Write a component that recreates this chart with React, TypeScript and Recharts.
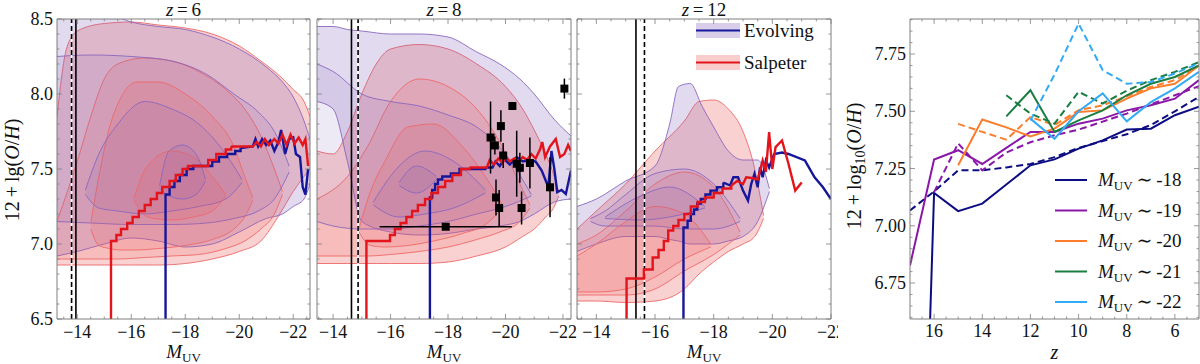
import React from "react";
import {
  ComposedChart,
  Area,
  Line,
  Scatter,
  ErrorBar,
  XAxis,
  YAxis,
  ReferenceLine,
  Legend,
} from "recharts";

const FONT = '"Liberation Serif", "DejaVu Serif", serif';
const FRAME = "#7f7f7f";
const EVO = "#16169a";
const SALP = "#e3141b";
const EVO_FILL = "#7d5cb5";
const SALP_FILL = "#ee5a5a";
const EVO_EDGE = "#8a66be";
const SALP_EDGE = "#ee6868";

// ---- contour bands: [M_UV, low, high] ----
const z6SalpA = [
  [-13.25, 6.86, 7.85], [-13.6, 6.86, 8.3], [-14.0, 6.86, 8.42], [-15.0, 6.86, 8.47],
  [-16.0, 6.86, 8.48], [-17.0, 6.86, 8.46], [-18.0, 6.87, 8.44], [-19.0, 6.9, 8.4],
  [-20.0, 6.95, 8.32], [-20.8, 7.02, 8.22], [-21.5, 7.2, 8.12], [-22.0, 7.35, 8.03],
  [-22.4, 7.45, 7.95], [-22.62, 7.5, 7.85],
];
const z6EvoA = [
  [-13.25, 6.92, 8.6], [-14.0, 6.95, 8.6], [-15.0, 7.0, 8.55], [-16.0, 7.04, 8.48],
  [-17.0, 7.02, 8.45], [-18.0, 6.98, 8.43], [-19.0, 7.0, 8.38], [-20.0, 7.08, 8.3],
  [-21.0, 7.17, 8.18], [-21.6, 7.2, 8.08], [-22.0, 7.25, 7.98], [-22.4, 7.3, 7.82],
  [-22.62, 7.4, 7.7],
];
const z6SalpB = [
  [-13.25, 6.9, 7.15], [-14.0, 6.9, 7.55], [-14.5, 6.9, 7.85], [-15.0, 6.9, 8.1],
  [-15.5, 6.9, 8.2], [-16.5, 6.91, 8.24], [-17.5, 6.92, 8.22], [-18.5, 6.93, 8.15],
  [-19.5, 6.97, 8.03], [-20.2, 7.02, 7.9], [-20.8, 7.1, 7.72], [-21.3, 7.2, 7.5],
  [-21.6, 7.33, 7.35],
];
const z6EvoB = [
  [-13.25, 7.15, 8.25], [-14.5, 7.14, 8.26], [-16.0, 7.13, 8.25], [-17.5, 7.13, 8.22],
  [-18.8, 7.14, 8.13], [-19.8, 7.17, 8.0], [-20.7, 7.22, 7.88], [-21.3, 7.3, 7.75],
  [-21.85, 7.48, 7.52],
];
const z6SalpC = [
  [-14.5, 7.1, 7.14], [-14.8, 6.99, 7.45], [-15.2, 6.97, 7.78], [-15.6, 6.96, 7.97],
  [-16.2, 6.96, 8.08], [-17.0, 6.97, 8.08], [-18.0, 6.99, 8.0], [-19.0, 7.03, 7.85],
  [-19.8, 7.1, 7.65], [-20.2, 7.18, 7.45], [-20.5, 7.29, 7.31],
];
const z6EvoC = [
  [-14.3, 7.33, 7.36], [-14.8, 7.24, 7.6], [-15.5, 7.22, 7.8], [-16.5, 7.2, 7.95],
  [-17.5, 7.22, 7.9], [-18.5, 7.25, 7.8], [-19.5, 7.3, 7.6], [-20.1, 7.41, 7.43],
];
const z6SalpD = [
  [-16.1, 7.29, 7.31], [-16.6, 7.18, 7.52], [-17.5, 7.16, 7.62], [-18.3, 7.18, 7.58],
  [-19.0, 7.22, 7.45], [-19.5, 7.32, 7.33],
];
const z6EvoD = [
  [-17.05, 7.37, 7.39], [-17.4, 7.32, 7.62], [-17.9, 7.3, 7.66], [-18.4, 7.33, 7.6],
  [-18.75, 7.42, 7.43],
];

const z8EvoA = [
  [-13.44, 7.95, 8.45], [-14.0, 7.9, 8.45], [-14.5, 7.55, 8.43], [-15.0, 7.15, 8.42],
  [-16.0, 7.08, 8.4], [-17.0, 7.06, 8.4], [-18.0, 7.07, 8.38], [-19.0, 7.1, 8.28],
  [-19.8, 7.12, 8.2], [-20.5, 7.15, 8.1], [-21.0, 7.2, 8.0], [-21.7, 7.28, 7.83],
  [-22.28, 7.3, 7.72],
];
const z8SalpA = [
  [-13.44, 6.87, 7.62], [-14.0, 6.87, 7.6], [-14.5, 6.87, 7.75], [-15.0, 6.87, 8.0],
  [-15.5, 6.87, 8.2], [-16.0, 6.87, 8.3], [-17.0, 6.87, 8.33], [-18.0, 6.88, 8.3],
  [-19.0, 6.92, 8.2], [-20.0, 6.98, 8.05], [-20.6, 7.05, 7.9], [-21.0, 7.1, 7.76],
  [-21.4, 7.18, 7.6], [-21.7, 7.25, 7.45], [-21.85, 7.32, 7.35],
];
const z8EvoB = [
  [-13.44, 7.15, 8.2], [-14.0, 7.12, 8.15], [-15.0, 7.1, 8.0], [-16.0, 7.1, 7.95],
  [-17.0, 7.12, 7.92], [-18.0, 7.15, 7.86], [-19.0, 7.2, 7.78], [-20.0, 7.25, 7.6],
  [-20.9, 7.32, 7.33],
];
const z8SalpB = [
  [-13.44, 6.92, 7.3], [-14.5, 6.92, 7.45], [-15.2, 6.92, 7.65], [-16.0, 6.93, 7.95],
  [-17.0, 6.95, 8.1], [-18.0, 6.98, 8.05], [-19.0, 7.03, 7.9], [-19.8, 7.08, 7.68],
  [-20.5, 7.15, 7.4], [-20.85, 7.24, 7.26],
];
const z8SalpC = [
  [-14.9, 7.08, 7.1], [-15.3, 6.99, 7.35], [-15.8, 6.98, 7.55], [-16.6, 6.99, 7.78],
  [-17.5, 7.02, 7.8], [-18.5, 7.07, 7.65], [-19.3, 7.13, 7.45], [-19.9, 7.24, 7.26],
];
const z8EvoC = [
  [-15.4, 7.26, 7.28], [-16.3, 7.18, 7.52], [-17.2, 7.2, 7.62], [-18.2, 7.24, 7.55],
  [-19.3, 7.34, 7.36],
];
const z8EvoD = [[-16.3, 7.39, 7.41], [-16.9, 7.34, 7.52], [-17.6, 7.43, 7.45]];

const z12EvoA = [
  [-13.34, 6.95, 7.25], [-14.0, 7.0, 7.3], [-15.0, 7.05, 7.42], [-16.0, 7.05, 7.52],
  [-16.5, 7.03, 7.8], [-16.8, 7.02, 8.05], [-17.2, 7.0, 8.07], [-17.6, 7.0, 7.92],
  [-18.0, 7.0, 7.78], [-18.5, 7.02, 7.62], [-19.0, 7.05, 7.56], [-19.5, 7.15, 7.56],
  [-19.9, 7.35, 7.37],
];
const z12SalpA = [
  [-13.34, 6.62, 7.1], [-14.0, 6.62, 7.22], [-15.0, 6.61, 7.4], [-16.0, 6.62, 7.62],
  [-17.0, 6.7, 7.82], [-17.5, 6.8, 7.95], [-18.0, 6.88, 7.96], [-18.5, 6.95, 7.9],
  [-19.0, 7.0, 7.75], [-19.4, 7.05, 7.5], [-19.7, 7.17, 7.19],
];
const z12SalpB = [
  [-13.34, 6.66, 7.0], [-14.0, 6.66, 7.06], [-15.0, 6.66, 7.22], [-16.0, 6.7, 7.4],
  [-17.0, 6.82, 7.48], [-18.0, 6.93, 7.38], [-18.9, 7.06, 7.08],
];
const z12EvoB = [
  [-13.8, 7.15, 7.17], [-14.3, 7.12, 7.22], [-15.0, 7.12, 7.33], [-16.0, 7.12, 7.47],
  [-17.0, 7.1, 7.5], [-18.0, 7.1, 7.4], [-18.9, 7.15, 7.17],
];
const z12SalpC = [
  [-13.34, 6.68, 6.92], [-14.0, 6.68, 7.0], [-15.0, 6.7, 7.15], [-16.0, 6.78, 7.25],
  [-17.0, 6.9, 7.2], [-17.9, 6.98, 7.0],
];
const z12EvoC = [
  [-14.3, 7.17, 7.18], [-15.5, 7.16, 7.32], [-16.5, 7.18, 7.38], [-17.7, 7.24, 7.25],
];

// ---- median lines: staircase part + noisy tail ----
const z6SalpStep = [
  [-15.25, 6.4], [-15.25, 7.02], [-15.45, 7.06], [-15.62, 7.1], [-15.85, 7.14], [-16.05, 7.18],
  [-16.28, 7.22], [-16.5, 7.26], [-16.72, 7.3], [-16.95, 7.34], [-17.15, 7.38], [-17.42, 7.42],
  [-17.65, 7.46], [-17.9, 7.5], [-18.1, 7.52], [-18.85, 7.56], [-19.15, 7.6], [-19.5, 7.63],
  [-19.7, 7.65],
];
const z6SalpTail = [
  [-19.7, 7.65], [-20.5, 7.65], [-20.65, 7.68], [-20.8, 7.65], [-20.95, 7.7], [-21.1, 7.66],
  [-21.3, 7.7], [-21.45, 7.67], [-21.6, 7.73], [-21.75, 7.66], [-21.9, 7.73], [-22.05, 7.67],
  [-22.2, 7.71], [-22.35, 7.66], [-22.45, 7.7], [-22.55, 7.52],
];
const z6EvoStep = [
  [-17.27, 6.4], [-17.27, 7.33], [-17.42, 7.38], [-17.6, 7.42], [-17.8, 7.46], [-18.05, 7.5],
  [-18.3, 7.52], [-19.0, 7.55], [-19.25, 7.58], [-19.55, 7.6], [-19.85, 7.62], [-20.05, 7.64],
];
const z6EvoTail = [
  [-20.05, 7.64], [-20.5, 7.65], [-20.6, 7.7], [-20.7, 7.65], [-20.85, 7.7], [-21.0, 7.66],
  [-21.15, 7.69], [-21.3, 7.62], [-21.45, 7.68], [-21.55, 7.76], [-21.7, 7.6], [-21.85, 7.7],
  [-22.0, 7.71], [-22.1, 7.6], [-22.25, 7.58], [-22.35, 7.38], [-22.45, 7.33], [-22.55, 7.5],
];

const z8SalpStep = [
  [-15.16, 6.4], [-15.16, 7.02], [-15.98, 7.06], [-16.15, 7.1], [-16.35, 7.14], [-16.55, 7.18],
  [-16.75, 7.22], [-16.95, 7.26], [-17.2, 7.3], [-17.42, 7.34], [-17.65, 7.38], [-17.9, 7.42],
  [-18.15, 7.46], [-18.45, 7.5], [-18.75, 7.51],
];
const z8SalpTail = [
  [-18.75, 7.51], [-19.35, 7.51], [-19.45, 7.56], [-19.6, 7.53], [-19.75, 7.57], [-19.9, 7.54],
  [-20.0, 7.58], [-20.15, 7.55], [-20.3, 7.57], [-20.45, 7.55], [-20.6, 7.58], [-20.75, 7.56],
  [-20.9, 7.6], [-21.05, 7.57], [-21.2, 7.63], [-21.28, 7.68], [-21.38, 7.58], [-21.55, 7.65],
  [-21.75, 7.7], [-21.9, 7.58], [-22.05, 7.6], [-22.18, 7.66], [-22.28, 7.62],
];
const z8EvoStep = [
  [-17.37, 6.4], [-17.37, 7.31], [-17.45, 7.36], [-17.55, 7.4], [-17.65, 7.43], [-17.8, 7.45],
  [-18.1, 7.47], [-18.4, 7.5], [-19.3, 7.51],
];
const z8EvoTail = [
  [-19.3, 7.51], [-19.55, 7.51], [-19.65, 7.55], [-19.8, 7.52], [-19.95, 7.566], [-20.15, 7.53],
  [-20.39, 7.58], [-20.6, 7.55], [-20.85, 7.56], [-21.05, 7.55], [-21.26, 7.49], [-21.49, 7.38],
  [-21.6, 7.62], [-21.7, 7.5], [-21.8, 7.345], [-21.95, 7.36], [-22.1, 7.334], [-22.28, 7.49],
];

const z12SalpStep = [
  [-15.03, 6.4], [-15.03, 6.77], [-15.62, 6.83], [-15.92, 6.91], [-16.12, 6.96], [-16.3, 7.02],
  [-16.45, 7.09], [-16.62, 7.12], [-16.8, 7.16], [-17.0, 7.2], [-17.22, 7.25], [-17.45, 7.28],
  [-17.7, 7.31], [-18.0, 7.34], [-18.3, 7.37], [-18.6, 7.39],
];
const z12SalpTail = [
  [-18.6, 7.39], [-18.8, 7.42], [-19.0, 7.4], [-19.11, 7.445], [-19.3, 7.44], [-19.5, 7.43],
  [-19.67, 7.557], [-19.78, 7.48], [-19.89, 7.746], [-20.0, 7.5], [-20.11, 7.646],
  [-20.33, 7.69], [-20.55, 7.535], [-20.78, 7.356], [-21.0, 7.41],
];
const z12EvoStep = [
  [-16.97, 6.4], [-16.97, 7.11], [-17.11, 7.155], [-17.22, 7.2], [-17.33, 7.23], [-17.44, 7.27],
  [-17.56, 7.3], [-17.72, 7.33], [-17.89, 7.356], [-18.11, 7.378], [-18.33, 7.41],
];
const z12EvoTail = [
  [-18.33, 7.41], [-18.56, 7.39], [-18.67, 7.445], [-18.83, 7.445], [-19.0, 7.356],
  [-19.17, 7.29], [-19.28, 7.4], [-19.39, 7.467], [-19.5, 7.378], [-19.58, 7.51],
  [-19.67, 7.445], [-19.78, 7.557], [-19.89, 7.51], [-20.06, 7.6], [-20.33, 7.61],
  [-20.55, 7.6], [-21.11, 7.557], [-21.44, 7.445], [-21.72, 7.38], [-22.0, 7.3],
];

// observations at z=8: [M_UV, 12+log(O/H), x error, y error]
const z8Obs = [
  [-22.05, 8.036, 0, 0.067], [-20.24, 7.92, 0, 0], [-19.84, 7.786, 0, 0.105],
  [-19.48, 7.71, 0, 0.24], [-19.63, 7.657, 0, 0.06], [-19.92, 7.59, 0, 0.084],
  [-20.39, 7.535, 0, 0.22], [-20.5, 7.508, 0, 0.1], [-20.85, 7.54, 0, 0.17],
  [-19.67, 7.31, 0, 0.12], [-19.78, 7.24, 0, 0.12], [-20.56, 7.24, 0, 0.11],
  [-21.55, 7.378, 0, 0.2], [-17.92, 7.115, 2.3, 0],
];

// ---- redshift evolution panel ----
const zGrid = [17, 16, 15, 14, 13, 12, 11, 10, 9, 8, 7, 6, 5];
const m18Solid = [3.8, 7.143, 7.064, 7.097, 7.18, 7.264, 7.29, 7.337, 7.373, 7.42, 7.424, 7.483, 7.52];
const m18Dash = [7.067, 7.15, 7.242, 7.242, 7.255, 7.27, 7.3, 7.34, 7.37, 7.4, 7.44, 7.5, 7.563];
const m19Solid = [6.827, 7.289, 7.33, 7.27, 7.34, 7.41, 7.41, 7.446, 7.468, 7.504, 7.526, 7.555, 7.636];
const m19Dash = [null, 7.147, 7.36, 7.242, 7.32, 7.365, 7.395, 7.42, 7.455, 7.49, 7.53, 7.57, 7.61];
const m20Solid = [null, null, 7.264, 7.464, 7.43, 7.39, 7.424, 7.497, 7.504, 7.555, 7.6, 7.62, 7.7];
const m20Dash = [null, null, 7.445, 7.41, 7.376, 7.475, 7.44, 7.505, 7.526, 7.565, 7.606, 7.636, 7.7];
const m21Solid = [null, null, null, null, 7.478, 7.592, 7.41, 7.46, 7.504, 7.57, 7.62, 7.65, 7.7];
const m21Dash = [null, null, null, null, 7.57, 7.49, 7.446, 7.585, 7.534, 7.59, 7.636, 7.672, 7.715];
const m22Solid = [null, null, null, null, null, 7.468, 7.38, 7.5, 7.578, 7.456, 7.54, 7.6, 7.672];
const m22Dash = [null, null, null, null, null, 7.46, 7.66, 7.883, 7.68, 7.62, 7.628, 7.665, 7.71];

const muvBins = ["-18", "-19", "-20", "-21", "-22"];
const binColors = ["#0d0d82", "#8a17a8", "#fb7d2c", "#1a7d42", "#33aaf5"];

// ---- ticks ----
const X_MAJOR = [-14, -16, -18, -20, -22];
const Y_MAJOR = [6.5, 7.0, 7.5, 8.0, 8.5];
const Z_MAJOR = [16, 14, 12, 10, 8, 6];
const OH_MAJOR = [6.75, 7.0, 7.25, 7.5, 7.75];

const range = (a: number, b: number, s: number) => {
  const out: number[] = [];
  for (let v = a; v <= b + 1e-9; v += s) out.push(+v.toFixed(3));
  return out;
};
const X_TICKS = range(-22.5, -13.5, 0.5);
const Y_TICKS = range(6.5, 8.5, 0.1);
const Z_TICKS = range(5.5, 16.5, 0.5);
const OH_TICKS = range(6.6, 7.9, 0.05);

const band = (rows: number[][]) => rows.map(([x, lo, hi]) => ({ x, b: [lo, hi] }));
const pts = (rows: number[][]) => rows.map(([x, y]) => ({ x, y }));
const series = (vals: (number | null)[]) =>
  zGrid.map((z, i) => ({ x: z, y: vals[i] })).filter((d) => d.y !== null);

const minus = (v: number) => (v < 0 ? "\u2212" + Math.abs(v) : String(v));

const tickFactory =
  (side: string, majors: number[], fmt?: (v: number) => string, dy = 19) =>
  (props: any) => {
    const { x, y, payload } = props;
    const v = payload.value;
    const major = majors.some((t) => Math.abs(t - v) < 1e-6);
    const len = major ? 5 : 2.5;
    let seg = { x1: x, x2: x, y1: y, y2: y - len };
    if (side === "top") seg = { x1: x, x2: x, y1: y, y2: y + len };
    if (side === "left") seg = { x1: x, x2: x + len, y1: y, y2: y };
    if (side === "right") seg = { x1: x, x2: x - len, y1: y, y2: y };
    return (
      <g>
        <line {...seg} stroke={FRAME} strokeWidth={0.8} />
        {major && fmt && side === "bottom" && (
          <text x={x} y={y + dy} textAnchor="middle" fontFamily={FONT} fontSize={18} fill="#111">
            {fmt(v)}
          </text>
        )}
        {major && fmt && side === "left" && (
          <text x={x - 4} y={y + 6} textAnchor="end" fontFamily={FONT} fontSize={18} fill="#111">
            {fmt(v)}
          </text>
        )}
      </g>
    );
  };

// bottom label of a panel: M_UV below, "z = n" title above the frame
const muvLabel = (n: string) => (p: any) => {
  const vb = p.viewBox;
  const cx = vb.x + vb.width / 2;
  return (
    <g>
      <text x={cx} y={358} textAnchor="middle" fontFamily={FONT} fontSize={19} fill="#111">
        <tspan fontStyle="italic">M</tspan>
        <tspan fontSize={13} dy={4}>UV</tspan>
      </text>
      <text x={cx} y={16} textAnchor="middle" fontFamily={FONT} fontSize={19} fill="#111">
        <tspan fontStyle="italic">z</tspan>
        <tspan>{"\u2009=\u2009" + n}</tspan>
      </text>
    </g>
  );
};

const ohLabel = () => (
  <text transform="translate(19,170) rotate(-90)" textAnchor="middle" fontFamily={FONT} fontSize={20} fill="#111">
    <tspan>{"12\u2009+\u2009lg("}</tspan>
    <tspan fontStyle="italic">O</tspan>
    <tspan>/</tspan>
    <tspan fontStyle="italic">H</tspan>
    <tspan>)</tspan>
  </text>
);

const ImfLegend = () => (
  <svg width={140} height={60} style={{ display: "block" }}>
    <rect x={0} y={3} width={44} height={15} fill={EVO_FILL} fillOpacity={0.3} />
    <line x1={0} x2={44} y1={10.5} y2={10.5} stroke={EVO} strokeWidth={2} />
    <text x={48} y={17} fontFamily={FONT} fontSize={19} fill="#111">Evolving</text>
    <rect x={0} y={35} width={44} height={15} fill={SALP_FILL} fillOpacity={0.3} />
    <line x1={0} x2={44} y1={42.5} y2={42.5} stroke={SALP} strokeWidth={2} />
    <text x={48} y={49} fontFamily={FONT} fontSize={19} fill="#111">Salpeter</text>
  </svg>
);

const BinLegend = () => (
  <svg width={150} height={150} style={{ display: "block" }}>
    {muvBins.map((b, i) => {
      const cy = 15 + i * 30.5;
      return (
        <g key={b}>
          <line x1={5} x2={37} y1={cy} y2={cy} stroke={binColors[i]} strokeWidth={2} />
          <text x={48} y={cy + 6} fontFamily={FONT} fontSize={19} fill="#111">
            <tspan fontStyle="italic">M</tspan>
            <tspan fontSize={13} dy={4}>UV</tspan>
            <tspan dy={-4}>{"\u2009\u223C\u2009" + b}</tspan>
          </text>
        </g>
      );
    })}
  </svg>
);

type PanelProps = {
  left: number;
  plotRight: number;
  extraRight: number;
  yw: number;
  xDomain: [number, number];
  title: string;
  evo: number[][][];
  salp: number[][][];
  evoStep: number[][];
  evoTail: number[][];
  salpStep: number[][];
  salpTail: number[][];
  solidX: number;
  dashX: number;
  showY?: boolean;
  obs?: number[][];
  legend?: boolean;
};

function MuvPanel(p: PanelProps) {
  const layers: { rows: number[][]; evo: boolean; lvl: number }[] = [];
  const n = Math.max(p.evo.length, p.salp.length);
  for (let i = 0; i < n; i++) {
    if (p.salp[i]) layers.push({ rows: p.salp[i], evo: false, lvl: i });
    if (p.evo[i]) layers.push({ rows: p.evo[i], evo: true, lvl: i });
  }
  const width = p.plotRight - p.left + 1 + p.extraRight;
  return (
    <div style={{ position: "absolute", left: p.left, top: 0 }}>
      <ComposedChart width={width} height={364} margin={{ top: 18, right: p.extraRight, bottom: 0, left: 0 }}>
        <XAxis
          dataKey="x"
          type="number"
          domain={p.xDomain}
          reversed
          allowDataOverflow
          ticks={X_TICKS}
          interval={0}
          tickLine={false}
          tickSize={0}
          tickMargin={0}
          tick={tickFactory("bottom", X_MAJOR, minus)}
          height={45}
          stroke={FRAME}
          label={{ content: muvLabel(p.title) }}
        />
        <XAxis
          xAxisId="top"
          orientation="top"
          dataKey="x"
          type="number"
          domain={p.xDomain}
          reversed
          allowDataOverflow
          ticks={X_TICKS}
          interval={0}
          tickLine={false}
          tickSize={0}
          tickMargin={0}
          tick={tickFactory("top", X_MAJOR)}
          height={1}
          stroke={FRAME}
        />
        <YAxis
          type="number"
          domain={[6.5, 8.5]}
          allowDataOverflow
          ticks={Y_TICKS}
          interval={0}
          tickLine={false}
          tickSize={0}
          tickMargin={0}
          tick={tickFactory("left", Y_MAJOR, p.showY ? (v) => v.toFixed(1) : undefined)}
          width={p.yw}
          stroke={FRAME}
          label={p.showY ? { content: ohLabel } : undefined}
        />
        <YAxis
          yAxisId="right"
          orientation="right"
          type="number"
          domain={[6.5, 8.5]}
          allowDataOverflow
          ticks={Y_TICKS}
          interval={0}
          tickLine={false}
          tickSize={0}
          tickMargin={0}
          tick={tickFactory("right", Y_MAJOR)}
          width={1}
          stroke={FRAME}
        />
        {layers.map((l, i) => (
          <Area
            key={"c" + i}
            data={band(l.rows)}
            dataKey="b"
            type="monotone"
            fill={l.evo ? EVO_FILL : SALP_FILL}
            fillOpacity={l.evo ? (l.lvl === 0 ? 0.22 : 0.13) : l.lvl === 0 ? 0.28 : 0.16}
            stroke={l.evo ? EVO_EDGE : SALP_EDGE}
            strokeWidth={0.9}
            dot={false}
            activeDot={false}
            isAnimationActive={false}
          />
        ))}
        <ReferenceLine x={p.solidX} stroke="#000" strokeWidth={1.6} />
        <ReferenceLine x={p.dashX} stroke="#fff" strokeWidth={1.6} />
        <ReferenceLine x={p.dashX} stroke="#000" strokeWidth={1.6} strokeDasharray="5 3" />
        <Line data={pts(p.evoStep)} dataKey="y" type="stepAfter" stroke={EVO} strokeWidth={2.4} dot={false} activeDot={false} isAnimationActive={false} />
        <Line data={pts(p.evoTail)} dataKey="y" type="linear" stroke={EVO} strokeWidth={2.4} dot={false} activeDot={false} isAnimationActive={false} />
        <Line data={pts(p.salpStep)} dataKey="y" type="stepAfter" stroke={SALP} strokeWidth={2.4} dot={false} activeDot={false} isAnimationActive={false} />
        <Line data={pts(p.salpTail)} dataKey="y" type="linear" stroke={SALP} strokeWidth={2.4} dot={false} activeDot={false} isAnimationActive={false} />
        {p.obs && (
          <Scatter
            data={p.obs.map(([x, y, ex, ey]) => ({ x, y, ex, ey }))}
            dataKey="y"
            fill="#000"
            shape="square"
            isAnimationActive={false}
          >
            <ErrorBar dataKey="ey" direction="y" width={0} stroke="#000" strokeWidth={1.5} />
            <ErrorBar dataKey="ex" direction="x" width={0} stroke="#000" strokeWidth={1.5} />
          </Scatter>
        )}
        {p.legend && (
          <Legend
            layout="horizontal"
            verticalAlign="middle"
            align="center"
            wrapperStyle={{ left: 124, top: 20, width: 140, height: 60 }}
            content={() => <ImfLegend />}
          />
        )}
      </ComposedChart>
    </div>
  );
}

const zLabel = (p: any) => {
  const vb = p.viewBox;
  return (
    <text x={vb.x + vb.width / 2} y={359} textAnchor="middle" fontFamily={FONT} fontSize={20} fontStyle="italic" fill="#111">
      z
    </text>
  );
};

const logLabel = () => (
  <text transform="translate(21,166) rotate(-90)" textAnchor="middle" fontFamily={FONT} fontSize={20} fill="#111">
    <tspan>{"12\u2009+\u2009log"}</tspan>
    <tspan fontSize={14} dy={4}>10</tspan>
    <tspan dy={-4}>(</tspan>
    <tspan fontStyle="italic">O</tspan>
    <tspan>/</tspan>
    <tspan fontStyle="italic">H</tspan>
    <tspan>)</tspan>
  </text>
);

function EvolutionPanel() {
  const lines = [
    { v: m18Solid, c: 0, d: false }, { v: m18Dash, c: 0, d: true },
    { v: m19Solid, c: 1, d: false }, { v: m19Dash, c: 1, d: true },
    { v: m20Solid, c: 2, d: false }, { v: m20Dash, c: 2, d: true },
    { v: m21Solid, c: 3, d: false }, { v: m21Dash, c: 3, d: true },
    { v: m22Solid, c: 4, d: false }, { v: m22Dash, c: 4, d: true },
  ];
  return (
    <div style={{ position: "absolute", left: 840, top: 0 }}>
      <ComposedChart width={360} height={364} margin={{ top: 18, right: 0, bottom: 0, left: 0 }}>
        <XAxis
          dataKey="x"
          type="number"
          domain={[5, 17]}
          reversed
          allowDataOverflow
          ticks={Z_TICKS}
          interval={0}
          tickLine={false}
          tickSize={0}
          tickMargin={0}
          tick={tickFactory("bottom", Z_MAJOR, (v) => String(v), 18)}
          height={45}
          stroke={FRAME}
          label={{ content: zLabel }}
        />
        <XAxis
          xAxisId="top"
          orientation="top"
          dataKey="x"
          type="number"
          domain={[5, 17]}
          reversed
          allowDataOverflow
          ticks={Z_TICKS}
          interval={0}
          tickLine={false}
          tickSize={0}
          tickMargin={0}
          tick={tickFactory("top", Z_MAJOR)}
          height={1}
          stroke={FRAME}
        />
        <YAxis
          type="number"
          domain={[6.593, 7.903]}
          allowDataOverflow
          ticks={OH_TICKS}
          interval={0}
          tickLine={false}
          tickSize={0}
          tickMargin={0}
          tick={tickFactory("left", OH_MAJOR, (v) => v.toFixed(2))}
          width={70}
          stroke={FRAME}
          label={{ content: logLabel }}
        />
        <YAxis
          yAxisId="right"
          orientation="right"
          type="number"
          domain={[6.593, 7.903]}
          allowDataOverflow
          ticks={OH_TICKS}
          interval={0}
          tickLine={false}
          tickSize={0}
          tickMargin={0}
          tick={tickFactory("right", OH_MAJOR)}
          width={1}
          stroke={FRAME}
        />
        {lines.map((l, i) => (
          <Line
            key={i}
            data={series(l.v)}
            dataKey="y"
            type="linear"
            stroke={binColors[l.c]}
            strokeWidth={2}
            strokeDasharray={l.d ? "7 4" : undefined}
            dot={false}
            activeDot={false}
            isAnimationActive={false}
          />
        ))}
        <Legend
          layout="horizontal"
          verticalAlign="middle"
          align="center"
          wrapperStyle={{ left: 210, top: 165, width: 150, height: 150 }}
          content={() => <BinLegend />}
        />
      </ComposedChart>
    </div>
  );
}

export default function App() {
  return (
    <div style={{ position: "absolute", left: 0, top: 0, width: 1200, height: 364, background: "#fff", overflow: "hidden" }}>
      <MuvPanel
        left={0}
        plotRight={310}
        extraRight={0}
        yw={57}
        xDomain={[-22.62, -13.25]}
        title="6"
        evo={[z6EvoA, z6EvoB, z6EvoC, z6EvoD]}
        salp={[z6SalpA, z6SalpB, z6SalpC, z6SalpD]}
        evoStep={z6EvoStep}
        evoTail={z6EvoTail}
        salpStep={z6SalpStep}
        salpTail={z6SalpTail}
        solidX={-13.95}
        dashX={-13.79}
        showY
      />
      <MuvPanel
        left={312}
        plotRight={571}
        extraRight={12}
        yw={5}
        xDomain={[-22.28, -13.44]}
        title="8"
        evo={[z8EvoA, z8EvoB, z8EvoC, z8EvoD]}
        salp={[z8SalpA, z8SalpB, z8SalpC]}
        evoStep={z8EvoStep}
        evoTail={z8EvoTail}
        salpStep={z8SalpStep}
        salpTail={z8SalpTail}
        solidX={-14.64}
        dashX={-14.87}
        obs={z8Obs}
      />
      <MuvPanel
        left={572}
        plotRight={831}
        extraRight={6}
        yw={5}
        xDomain={[-22.0, -13.34]}
        title="12"
        evo={[z12EvoA, z12EvoB, z12EvoC]}
        salp={[z12SalpA, z12SalpB, z12SalpC]}
        evoStep={z12EvoStep}
        evoTail={z12EvoTail}
        salpStep={z12SalpStep}
        salpTail={z12SalpTail}
        solidX={-15.35}
        dashX={-15.64}
        legend
      />
      <EvolutionPanel />
    </div>
  );
}
